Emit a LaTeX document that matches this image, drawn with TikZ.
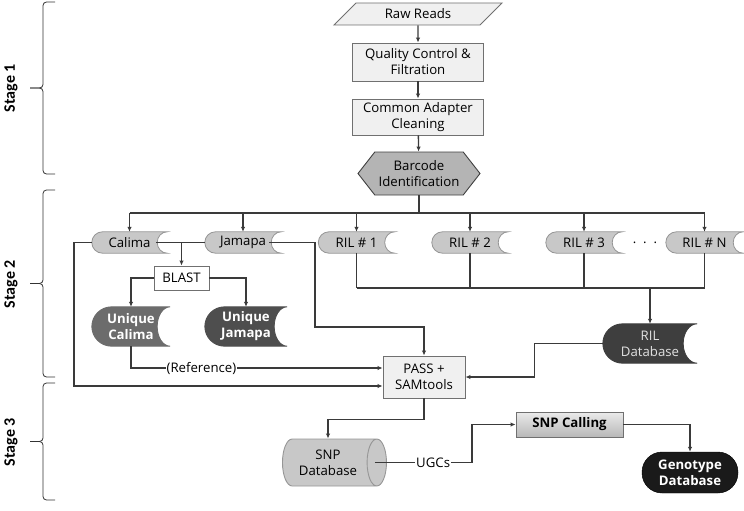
\documentclass[tikz,border=0pt]{standalone}
\usepackage{fontspec}
\setmainfont{Open Sans}
\newfontfamily\stagefont{Carlito}
\usetikzlibrary{positioning, arrows.meta, calc, shapes.geometric, shapes.symbols}
\definecolor{inkline}{RGB}{58,58,58}
\definecolor{boxedge}{RGB}{112,112,112}
\definecolor{boxfill}{RGB}{240,240,240}
\definecolor{datafill}{RGB}{200,200,200}
\definecolor{dataedge}{RGB}{150,150,150}
\definecolor{hexfill}{RGB}{180,180,180}
\definecolor{uniqcal}{RGB}{108,108,108}
\definecolor{uniqjam}{RGB}{78,78,78}
\definecolor{rildark}{RGB}{62,62,62}
\definecolor{genofill}{RGB}{26,26,26}

\pgfdeclarelayer{bg}
\pgfsetlayers{bg,main}

% stored-data outline drawn round a node: [depth]{node}{fill}{edge}
\newcommand{\storedshape}[4][10]{%
  \draw[fill=#3, draw=#4, line width=0.8pt]
    let \p1=(#2.north west), \p2=(#2.south east), \n1={(\y1-\y2)/2} in
    (\x2,\y1) -- ($(\x1,\y1)+(\n1,0)$)
    arc[start angle=90, end angle=270, x radius=\n1, y radius=\n1]
    -- (\x2,\y2)
    arc[start angle=-90, end angle=-270, x radius=#1pt, y radius=\n1] -- cycle;}

% left brace of a stage: {top}{bottom}
\newcommand{\stagebrace}[2]{%
  \draw[black!80, line width=0.8pt, rounded corners=3.5pt]
    (55,#1) -- (43,#1) -- (43,{(#1+#2)/2}) -- (30,{(#1+#2)/2});
  \draw[black!80, line width=0.8pt, rounded corners=3.5pt]
    (55,#2) -- (43,#2) -- (43,{(#1+#2)/2}) -- (30,{(#1+#2)/2});}

\begin{document}
\begin{tikzpicture}[x=1pt, y=1pt, font=\fontsize{13.2}{16}\selectfont,
    proc/.style={draw=boxedge, fill=boxfill, line width=0.9pt, align=center, inner sep=1pt},
    data/.style={align=center, inner sep=0pt},
    bigdata/.style={data, text=white, font=\fontsize{13.2}{16}\selectfont\bfseries},
    flow/.style={draw=inkline, line width=1.3pt, -{Latex[length=5pt,width=4.5pt]}},
    link/.style={draw=inkline, line width=1.3pt},
    stagelabel/.style={rotate=90, font=\stagefont\bfseries\fontsize{16}{18}\selectfont}]

  \useasboundingbox (0,0) rectangle (744,-511);

  % stage 1
  \node[trapezium, trapezium left angle=45, trapezium right angle=135, draw=boxedge, fill=boxfill,
        line width=0.9pt, minimum width=143pt, minimum height=22pt, inner sep=1pt] (raw) at (418,-14) {Raw Reads};
  \node[proc, minimum width=131pt, minimum height=38pt] (qc) at (418,-62) {Quality Control \&\\Filtration};
  \node[proc, minimum width=131pt, minimum height=36pt] (adapt) at (418,-117) {Common Adapter\\Cleaning};
  \node[signal, signal to=west and east, signal pointer angle=104, draw=black!75, fill=hexfill,
        line width=0.9pt, minimum width=122pt, minimum height=43pt, inner sep=1pt, align=center] (barcode) at (419,-173.5) {Barcode\\Identification};

  % stage 2
  \coordinate (bus) at (419,-213);
  \node[data, minimum width=75pt, minimum height=21pt] (calima) at (129.5,-242.5) {Calima};
  \node[data, minimum width=76pt, minimum height=21pt] (jamapa) at (243,-242.5) {Jamapa};
  \node[data, minimum width=76pt, minimum height=21pt] (ril1) at (356.5,-242.5) {RIL \# 1};
  \node[data, minimum width=76pt, minimum height=21pt] (ril2) at (470,-242.5) {RIL \# 2};
  \node[data, minimum width=76pt, minimum height=21pt] (ril3) at (584,-242.5) {RIL \# 3};
  \node[data, minimum width=77pt, minimum height=21pt] (rilN) at (704.5,-242.5) {RIL \# N};
  \node (dots) at (645,-242.5) {.\ \ .\ \ .};
  \node[proc, fill=white, minimum width=55pt, minimum height=24pt] (blast) at (181.5,-278) {BLAST};
  \node[bigdata, minimum width=78pt, minimum height=39pt] (ucal) at (131,-326.5) {Unique\\Calima};
  \node[bigdata, minimum width=82pt, minimum height=39pt] (ujam) at (246,-326.5) {Unique\\Jamapa};
  \node[data, text=black!12, minimum width=94pt, minimum height=39pt] (rildb) at (650,-343.5) {RIL\\Database};
  \node[proc, minimum width=82pt, minimum height=42pt] (pass) at (424,-377) {PASS +\\SAMtools};

  % stage 3
  \node[cylinder, shape aspect=0.7, draw=dataedge, fill=datafill, line width=0.9pt, minimum width=47pt,
        minimum height=104pt, inner sep=1pt, align=center] (snpdb) at (328,-462.5) {SNP\\Database};
  \node[proc, top color=black!8, bottom color=black!28, font=\fontsize{13.2}{16}\selectfont\bfseries,
        minimum width=107pt, minimum height=25pt] (snpcall) at (569.5,-424.5) {SNP Calling};
  \node[draw=black, fill=genofill, rounded corners=20pt, text=white, align=center, inner sep=1pt,
        font=\fontsize{13.2}{16}\selectfont\bfseries, minimum width=96pt, minimum height=41pt] (geno) at (690,-472.5) {Genotype\\Database};

  % data outlines behind the texts
  \begin{pgfonlayer}{bg}
    \foreach \nm in {calima,jamapa,ril1,ril2,ril3,rilN}
      \storedshape{\nm}{datafill}{dataedge};
    \storedshape[13]{ucal}{uniqcal}{uniqcal}
    \storedshape[13]{ujam}{uniqjam}{uniqjam}
    \storedshape[14]{rildb}{rildark}{rildark}
  \end{pgfonlayer}

  % connectors
  \draw[flow] (raw) -- (qc);
  \draw[flow] (qc) -- (adapt);
  \draw[flow] (adapt) -- (barcode);
  \draw[link] (barcode.south) -- (bus);
  \draw[link] (calima.north |- bus) -- (rilN.north |- bus);
  \foreach \nm in {calima,jamapa,ril1,ril2,ril3,rilN}
    \draw[flow] (\nm.north |- bus) -- (\nm.north);

  \draw[link] ([xshift=-11pt]calima.east) -- (jamapa.west);
  \draw[flow] (blast.north |- calima) -- (blast.north);
  \draw[flow] (blast.west) -| (ucal.north);
  \draw[flow] (blast.east) -| (ujam.north);

  \coordinate (cbend) at (74,-386);
  \draw[flow] (calima.west) -| (cbend) -- (cbend -| pass.west);
  \draw[flow] (ucal.south) |- node[pos=0.64, fill=white, inner sep=1pt] {(Reference)} ([yshift=9pt]pass.west);
  \coordinate (jbend) at (315,-327);
  \draw[flow] ([xshift=-12pt]jamapa.east) -| (jbend) -| (pass.north);

  \coordinate (rbus) at (0,-288);
  \foreach \nm in {ril1,ril2,ril3,rilN}
    \draw[link] (\nm.south) -- (\nm.south |- rbus);
  \draw[link] (ril1.south |- rbus) -- (rilN.south |- rbus);
  \draw[flow] (rildb.north |- rbus) -- (rildb.north);
  \draw[flow] (rildb.west) -- ++(-68,0) |- (pass.east);

  \draw[flow] (pass.south) -- ++(0,-21) -| (snpdb.north);
  \draw[flow] ([xshift=-12pt]snpdb.east) -- node[pos=0.6, fill=white, inner sep=1pt] {UGCs} ++(97,0) |- (snpcall.west);
  \draw[flow] (snpcall.east) -| (geno.north);

  % stages
  \stagebrace{-2}{-174}
  \stagebrace{-190}{-377}
  \stagebrace{-383}{-500}
  \node[stagelabel] (stage1) at (11,-88) {Stage 1};
  \node[stagelabel] (stage2) at (11,-284) {Stage 2};
  \node[stagelabel] (stage3) at (11,-442) {Stage 3};
\end{tikzpicture}
\end{document}
